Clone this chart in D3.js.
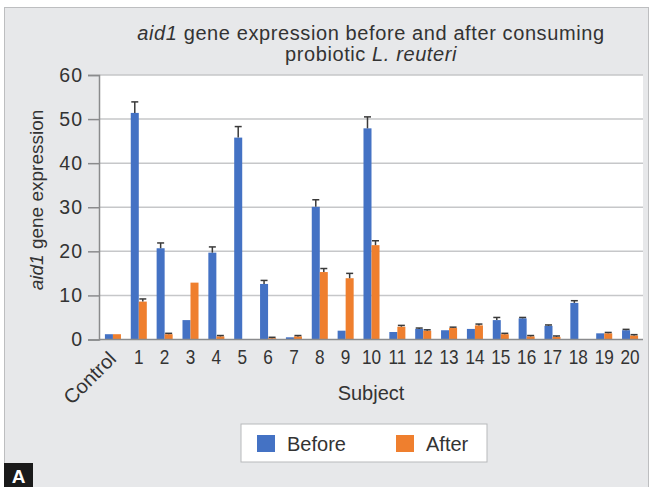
<!DOCTYPE html>
<html>
<head>
<meta charset="utf-8">
<script src="https://cdn.jsdelivr.net/npm/d3@7"></script>
<style>
  html, body { margin: 0; padding: 0; background: #ffffff; }
  svg { display: block; font-family: "Liberation Sans", Arial, sans-serif; }
</style>
</head>
<body>
<svg id="chart" width="652" height="487"></svg>
<script>
// Subjects on the x axis
const categories = ["Control", "1", "2", "3", "4", "5", "6", "7", "8", "9", "10",
  "11", "12", "13", "14", "15", "16", "17", "18", "19", "20"];

// aid1 expression before consuming L. reuteri, with upper error
const beforeValues = [1.2, 51.4, 20.7, 4.4, 19.7, 45.8, 12.6, 0.5, 30.1, 2.0, 47.9,
  1.7, 2.4, 2.1, 2.4, 4.4, 4.8, 3.1, 8.3, 1.4, 2.1];
const beforeErrors = [0, 2.5, 1.2, 0, 1.3, 2.5, 0.8, 0, 1.6, 0, 2.6,
  0, 0.2, 0, 0, 0.6, 0.2, 0.2, 0.5, 0, 0.2];

// aid1 expression after consuming L. reuteri, with upper error
const afterValues = [1.2, 8.6, 1.2, 12.9, 0.7, 0, 0.3, 0.7, 15.3, 13.9, 21.4,
  2.9, 2.0, 2.6, 3.2, 1.2, 0.7, 0.6, 0, 1.4, 0.9];
const afterErrors = [0, 0.6, 0.2, 0, 0.2, 0, 0.2, 0.2, 0.8, 1.1, 1.0,
  0.3, 0.2, 0.2, 0.3, 0.2, 0.2, 0.2, 0, 0.2, 0.2];

const yTicks = [0, 10, 20, 30, 40, 50, 60];
const seriesNames = ["Before", "After"];
const seriesColors = ["#4472c4", "#ef7f2e"];

const svg = d3.select("#chart");
const W = 652, H = 487;
const plot = { left: 99, right: 643, top: 75, bottom: 339.5 };
const textColor = "#333333";
const fontFamily = "'Liberation Sans', Arial, sans-serif";

// Panel background and frame
svg.append("rect").attr("x", 0).attr("y", 0).attr("width", W).attr("height", H).attr("fill", "#ffffff");
svg.append("rect").attr("x", 4.5).attr("y", 7.5).attr("width", W - 8).attr("height", H - 7)
  .attr("fill", "#e7e8ea").attr("stroke", "#bdbec0").attr("stroke-width", 1);

// Plot area
svg.append("rect").attr("x", plot.left).attr("y", plot.top)
  .attr("width", plot.right - plot.left).attr("height", plot.bottom - plot.top)
  .attr("fill", "#ffffff");

const x = d3.scaleBand().domain(categories)
  .range([plot.left + 1, plot.right]).paddingInner(0.38).paddingOuter(0.19);
const xSub = d3.scaleBand().domain(seriesNames).range([0, x.bandwidth()]);
const y = d3.scaleLinear().domain([0, 60]).range([plot.bottom, plot.top]);

// Gridlines
svg.append("g").selectAll("line").data(yTicks.filter(d => d > 0)).join("line")
  .attr("x1", plot.left).attr("x2", plot.right)
  .attr("y1", d => y(d)).attr("y2", d => y(d))
  .attr("stroke", "#c6c7c9").attr("stroke-width", 1.5);

// Bars
const rows = categories.map((c, i) => ({
  cat: c,
  items: [
    { name: "Before", value: beforeValues[i], err: beforeErrors[i] },
    { name: "After", value: afterValues[i], err: afterErrors[i] }
  ]
}));

const groups = svg.append("g").selectAll("g").data(rows).join("g")
  .attr("transform", d => `translate(${x(d.cat)},0)`);

groups.selectAll("rect").data(d => d.items).join("rect")
  .attr("x", d => xSub(d.name))
  .attr("width", xSub.bandwidth())
  .attr("y", d => y(d.value))
  .attr("height", d => y(0) - y(d.value))
  .attr("fill", (d, i) => seriesColors[i]);

// Upper error bars
const errItems = groups.selectAll("g.err").data(d => d.items.filter(e => e.err > 0)).join("g")
  .attr("class", "err");
errItems.append("line")
  .attr("x1", d => xSub(d.name) + xSub.bandwidth() / 2)
  .attr("x2", d => xSub(d.name) + xSub.bandwidth() / 2)
  .attr("y1", d => y(d.value)).attr("y2", d => y(d.value + d.err))
  .attr("stroke", "#3a3a3a").attr("stroke-width", 1.5);
errItems.append("line")
  .attr("x1", d => xSub(d.name) + xSub.bandwidth() / 2 - 3.5)
  .attr("x2", d => xSub(d.name) + xSub.bandwidth() / 2 + 3.5)
  .attr("y1", d => y(d.value + d.err)).attr("y2", d => y(d.value + d.err))
  .attr("stroke", "#3a3a3a").attr("stroke-width", 1.5);

// Y axis
const yAxis = svg.append("g").attr("transform", `translate(${plot.left},0)`)
  .call(d3.axisLeft(y).tickValues(yTicks).tickSize(11).tickPadding(6));
yAxis.select(".domain").attr("stroke", "#8a8b8d").attr("stroke-width", 1.5);
yAxis.selectAll(".tick line").attr("stroke", "#8a8b8d").attr("stroke-width", 1.5);
yAxis.selectAll(".tick text").attr("fill", textColor)
  .style("font-size", "19.5px").style("font-family", fontFamily)
  .style("letter-spacing", "1px").attr("dx", "1px");

// X axis
const xAxis = svg.append("g").attr("transform", `translate(0,${plot.bottom})`)
  .call(d3.axisBottom(x).tickSize(0).tickPadding(10));
xAxis.select(".domain").attr("stroke", "#8a8b8d").attr("stroke-width", 1.5)
  .attr("d", `M${plot.left},0H${plot.right}`);
xAxis.selectAll(".tick text").attr("fill", textColor)
  .style("font-size", "20px").style("font-family", fontFamily)
  .attr("dy", "0.71em");
// Subject numbers are set slightly narrow so two-digit labels sit inside their band
xAxis.selectAll(".tick").filter(d => d !== "Control").select("text")
  .attr("transform", "scale(0.86,1)");
xAxis.selectAll(".tick").filter(d => d === "Control").select("text")
  .attr("text-anchor", "end")
  .attr("x", 0).attr("y", 0).attr("dy", 0)
  .attr("transform", "translate(4.5,20.5) rotate(-45)");

// Axis titles
svg.append("text").attr("x", (plot.left + plot.right) / 2).attr("y", 400)
  .attr("text-anchor", "middle").attr("fill", textColor).style("font-size", "20px")
  .text("Subject");

const yTitle = svg.append("text")
  .attr("transform", "translate(43,200) rotate(-90)")
  .attr("text-anchor", "middle").attr("fill", textColor).style("font-size", "19px");
yTitle.append("tspan").style("font-style", "italic").text("aid1");
yTitle.append("tspan").text(" gene expression");

// Title
const title = svg.append("text").attr("text-anchor", "middle")
  .attr("fill", textColor).style("font-size", "20px").style("letter-spacing", "0.6px");
const t1 = title.append("tspan").attr("x", 371).attr("y", 40);
t1.append("tspan").style("font-style", "italic").text("aid1");
t1.append("tspan").text(" gene expression before and after consuming");
const t2 = title.append("tspan").attr("x", 371).attr("y", 61);
t2.append("tspan").text("probiotic ");
t2.append("tspan").style("font-style", "italic").text("L. reuteri");

// Legend
const legend = svg.append("g");
legend.append("rect").attr("x", 241).attr("y", 424).attr("width", 246).attr("height", 38)
  .attr("fill", "#ffffff").attr("stroke", "#b8b9bb").attr("stroke-width", 1);
const legendX = [257, 396];
seriesNames.forEach((name, i) => {
  legend.append("rect").attr("x", legendX[i]).attr("y", 435).attr("width", 18).attr("height", 17)
    .attr("fill", seriesColors[i]);
  legend.append("text").attr("x", legendX[i] + 30).attr("y", 451)
    .attr("fill", textColor).style("font-size", "20px").text(name);
});

// Panel letter
svg.append("rect").attr("x", 4).attr("y", 463).attr("width", 29).attr("height", 24).attr("fill", "#1a1a1a");
svg.append("text").attr("x", 18.5).attr("y", 483).attr("text-anchor", "middle")
  .attr("fill", "#ffffff").style("font-size", "19px").style("font-weight", "bold").text("A");
</script>
</body>
</html>
